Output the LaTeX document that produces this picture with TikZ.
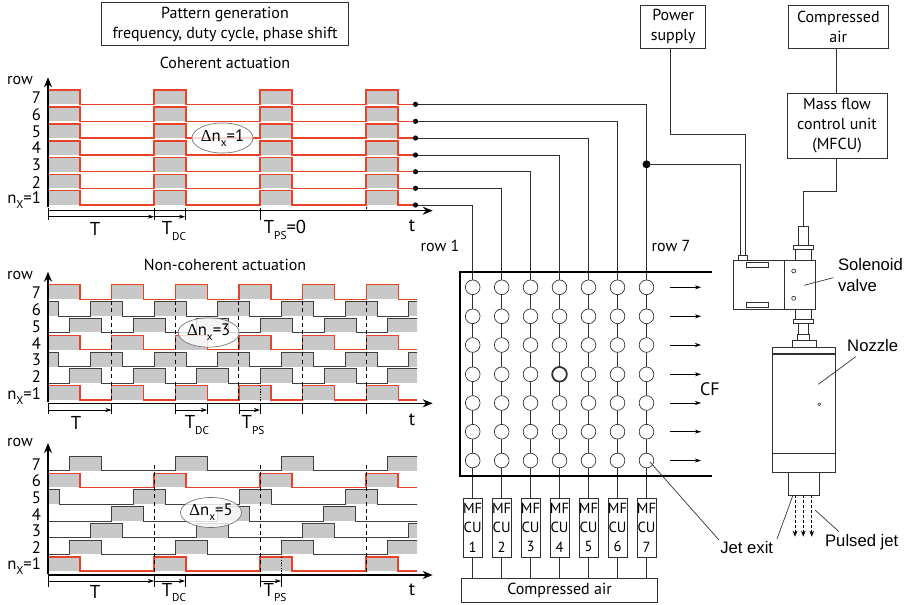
\documentclass[tikz,border=0pt]{standalone}
\usepackage{fontspec}
\setmainfont{PT Sans}
\newfontfamily\arialf{Liberation Sans}
\newfontfamily\serf{Liberation Serif}
\usetikzlibrary{arrows.meta,shapes.geometric}
\pgfdeclarelayer{wires}
\pgfsetlayers{wires,main}
\definecolor{sigred}{HTML}{E8432A}
\definecolor{pulsegrey}{HTML}{C8C8C8}
\definecolor{wirec}{HTML}{303030}
\newcommand\sbs[1]{\raisebox{-0.6ex}{\fontsize{8.5}{9}\selectfont #1}}
\newcommand\dn{{\serf Δ}}
% name x1 y1 x2 y2 text
\newcommand\bx[7][]{\node[boxn,#1,minimum width={(#5-#3)*0.75pt},minimum height={(#6-#4)*0.75pt}] (#2) at ({(#3+#5)/2},{(#4+#6)/2}) {#7};}
% style yhigh ylow phase period end
\newcommand\sig[6]{\begin{scope}
  \clip (47,#2-2) rectangle (#6,#3+2);
  \foreach \k in {0,...,8}{\fill[pulsegrey] ({#4+\k*#5},#3) rectangle ({#4+\k*#5+32},#2);}
  \draw[#1] ({#4-60},#3) \foreach \k in {0,...,8}{ -- ({#4+\k*#5},#3) -- ({#4+\k*#5},#2) -- ({#4+\k*#5+32},#2) -- ({#4+\k*#5+32},#3)};
\end{scope}}
\tikzset{
  every node/.style={font=\fontsize{12}{15}\selectfont,inner sep=0pt,outer sep=0pt,align=center},
  boxn/.style={draw=wirec,line width=0.6pt,fill=white},
  redsig/.style={draw=sigred,line width=0.95pt,line join=miter},
  blksig/.style={draw=black!75,line width=0.6pt,line join=miter},
  wire/.style={draw=wirec,line width=0.6pt},
  mainaxis/.style={line width=1.1pt,draw=black,-{Stealth[length=7.5pt,width=6pt]}},
  tickl/.style={line width=0.45pt,draw=black},
  dimarr/.style={line width=0.45pt,draw=black,-{Stealth[length=4.5pt,width=3pt]}},
  dashv/.style={line width=0.5pt,draw=black,dash pattern=on 3pt off 2.5pt},
  dotv/.style={line width=0.5pt,draw=black,dash pattern=on 1pt off 1pt},
  bigl/.style={font=\fontsize{14}{16}\selectfont},
  rowl/.style={font=\fontsize{12.5}{14}\selectfont,anchor=east},
  ell/.style={ellipse,draw=black!55,line width=0.5pt,fill=white,fill opacity=0.8,text opacity=1,font=\fontsize{12.5}{14}\selectfont},
  ldot/.style={circle,fill=black,minimum size=3.9pt},
  jetc/.style={circle,draw=wirec,line width=0.5pt,fill=white,minimum size=11pt},
  arial/.style={font=\arialf\fontsize{12.5}{15}\selectfont},
  mfcu/.style={font=\fontsize{11}{14.3}\selectfont},
  leader/.style={draw=wirec,line width=0.5pt},
}
\begin{document}
\begin{tikzpicture}[x=0.75pt,y=-0.75pt]
\useasboundingbox (0,0) rectangle (905,604);

% Header
\bx{pat}{101.7}{2.7}{348.3}{45.7}{Pattern generation\\frequency, duty cycle, phase shift}
\node (coh) at (225,63) {Coherent actuation};
\node (nonc) at (225,265) {Non-coherent actuation};

% ---- Panel 1
\foreach \h/\l in {90/104.3,107/121.3,124/138,141/155,157.7/171.7,174.3/188.3,190.7/205}{\sig{redsig}{\h}{\l}{48}{106}{415.5}}
\draw[mainaxis] (48,207) -- (48,77.3);
\draw[mainaxis] (48,210.7) -- (432.7,210.7);
\foreach \x in {48,154,185,260}{\draw[tickl] (\x,208) -- (\x,220);}
\draw[tickl] (366,207) -- (366,209);
\draw[dimarr] (48,216.7) -- (154,216.7);
\draw[dimarr] (154,216.7) -- (185,216.7);
\node (arow) at (20,80) {row};
\foreach \n/\y in {7/98,6/115,5/131.7,4/148,3/165,2/182.7}{\node[rowl] (a\n) at (41,\y) {\n};}
\node[rowl] (a1) at (41,200) {n\sbs{X}=1};
\node[bigl] (aT) at (95,229) {T};
\node[bigl] (aD) at (174,231) {T\sbs{DC}};
\node[bigl] (aP) at (285,230) {T\sbs{PS}=0};
\node[bigl] (at) at (412,226) {t};
\node[ell,minimum width=39pt,minimum height=22.5pt] (ea) at (222.5,138) {\dn n\sbs{x}=1};

% ---- Panel 2
\sig{redsig}{284.7}{299.3}{48}{63.67}{417}
\sig{blksig}{301.7}{316}{26.8}{63.67}{417}
\sig{blksig}{318.3}{332.3}{69.3}{63.67}{417}
\sig{redsig}{335.7}{349.7}{48}{63.67}{417}
\sig{blksig}{352.3}{366.7}{26.8}{63.67}{417}
\sig{blksig}{368.7}{383.3}{69.3}{63.67}{417}
\sig{redsig}{385.7}{400}{48}{63.67}{417}
\foreach \x in {111.5,175,238.8,302.4,366}{\draw[dashv] (\x,301) -- (\x,401);}
\draw[dotv] (260,386) -- (260,402);
\draw[mainaxis] (48,402) -- (48,271.7);
\draw[mainaxis] (48,403.3) -- (432.7,403.3);
\foreach \x in {48,111.5,175,207,238.8,260,302.4,366}{\draw[tickl] (\x,403) -- (\x,414);}
\draw[dimarr] (48,410) -- (111.5,410);
\draw[dimarr] (175,410) -- (207,410);
\draw[dimarr] (238.8,410) -- (260,410);
\node (brow) at (20,275) {row};
\foreach \n/\y in {7/293,6/310,5/327,4/344,3/360,2/377}{\node[rowl] (b\n) at (41,\y) {\n};}
\node[rowl] (b1) at (41,396) {n\sbs{X}=1};
\node[bigl] (bT) at (76,423) {T};
\node[bigl] (bD) at (197,425) {T\sbs{DC}};
\node[bigl] (bP) at (253,425) {T\sbs{PS}};
\node[bigl] (bt) at (412,420) {t};
\node[ell,minimum width=38.5pt,minimum height=22pt] (eb) at (208.7,332.5) {\dn n\sbs{x}=3};

% ---- Panel 3
\sig{blksig}{456.3}{470.7}{69.3}{106}{417}
\sig{redsig}{473.3}{487.3}{48}{106}{417}
\sig{blksig}{489.3}{504}{27}{106}{417}
\sig{blksig}{506.7}{521}{5.5}{106}{417}
\sig{blksig}{523.7}{537.7}{-15.5}{106}{417}
\sig{blksig}{540}{554.3}{69.3}{106}{417}
\sig{redsig}{557}{571}{48}{106}{417}
\foreach \x in {154,260,366}{\draw[dashv] (\x,465) -- (\x,574);}
\draw[dotv] (281,557) -- (281,575);
\draw[mainaxis] (48,574) -- (48,443);
\draw[mainaxis] (48,575) -- (432.7,575);
\foreach \x in {48,154,185,260,281}{\draw[tickl] (\x,575) -- (\x,586.7);}
\draw[dimarr] (48,581) -- (154,581);
\draw[dimarr] (154,581) -- (185,581);
\draw[dimarr] (260,581) -- (281,581);
\node (crow) at (20,442) {row};
\foreach \n/\y in {7/465,6/481,5/498,4/515,3/531,2/548}{\node[rowl] (c\n) at (41,\y) {\n};}
\node[rowl] (c1) at (41,566) {n\sbs{X}=1};
\node[bigl] (cT) at (95,592) {T};
\node[bigl] (cD) at (174,592.5) {T\sbs{DC}};
\node[bigl] (cP) at (275,592.5) {T\sbs{PS}};
\node[bigl] (ct) at (412,590) {t};
\node[ell,minimum width=38.5pt,minimum height=22.5pt] (ec) at (211,512.5) {\dn n\sbs{x}=5};

% ---- Jet grid, MFCU boxes and wiring
\bx{air}{461.7}{578.3}{657.3}{602}{Compressed air}
\foreach \i/\x/\ly in {1/472.7/205,2/501.7/188.3,3/530.5/171.7,4/559.5/155,5/588.5/138,6/617.5/121.3,7/646.5/104.3}{
  \node[ldot] (d\i) at (415.5,\ly) {};
  \bx[mfcu]{m\i}{\x-11}{498.7}{\x+11}{557}{MF\\CU\\\i}
  \foreach \j/\y in {1/287.3,2/316.3,3/345,4/374.3,5/403,6/431.7,7/460.5}{
    \node[jetc] (g\i\j) at (\x,\y) {};
  }
  \begin{pgfonlayer}{wires}
    \draw[wire] (d\i.center) -| (m\i.north);
    \draw[wire] (m\i.south) -- (m\i.south |- air.north);
  \end{pgfonlayer}
}
\node[jetc,line width=1.3pt] (gbold) at (559.5,374.3) {};
\draw[line width=1.1pt,draw=black] (712,272) -- (460,272) -- (460,476) -- (712,476);
\foreach \n/\y in {1/287.3,2/316.3,3/345,4/374.3,5/403,6/431.7,7/460.5}{
  \coordinate (fa\n) at (670,\y); \coordinate (fb\n) at (701,\y);
  \draw[dimarr] (fa\n) -- (fb\n);
}
\node[font=\fontsize{13.5}{15}\selectfont] (cf) at (710,389) {CF};
\node (r1) at (440,246) {row 1};
\node (r7) at (671,246) {row 7};

% ---- Top boxes
\bx{pw}{640.7}{5.3}{705.7}{48.3}{Power\\supply}
\bx{ca}{788.3}{5.3}{888.3}{48.3}{Compressed\\air}
\bx{mf}{787}{93.3}{887}{158.3}{Mass flow\\control unit\\(MFCU)}
\node[circle,fill=black,minimum size=6pt] (jd) at (646.5,164.3) {};

% ---- Solenoid valve and nozzle
\bx{fit}{798.3}{226}{808.3}{245}{}
\bx{fla}{793.3}{245}{813.3}{249.5}{}
\bx{nk}{795}{249.5}{811.3}{260}{}
\bx{sol}{733.3}{260}{784.3}{309}{}
\bx{solr}{784.3}{260}{815}{309}{}
\bx{plug}{738.3}{255.7}{747.7}{260}{}
\bx{s1}{746.7}{262.3}{768.3}{267}{}
\bx{s2}{746.7}{302.3}{768.3}{307}{}
\node[circle,draw=wirec,line width=0.5pt,minimum size=3pt] (o1) at (793.7,271) {};
\node[circle,draw=wirec,line width=0.5pt,minimum size=3pt] (o2) at (793.7,298.3) {};
\bx{nk2}{795.7}{309}{811}{319.3}{}
\bx{fl2}{793.3}{319.3}{813.3}{323.3}{}
\bx{nk3}{798.3}{323.3}{808.3}{334}{}
\bx{nk4}{797.7}{334}{809.3}{340}{}
\bx{nk5}{792.3}{340}{816}{347.3}{}
\bx{noz}{772.7}{347.3}{835}{472.3}{}
\coordinate (nl1) at (772.7,354); \coordinate (nr1) at (835,354);
\coordinate (nl2) at (772.7,453.7); \coordinate (nr2) at (835,453.7);
\draw[wire,line width=0.9pt] (nl1) -- (nr1);
\draw[wire,line width=0.9pt] (nl2) -- (nr2);
\node[circle,draw=wirec,line width=0.4pt,minimum size=2.2pt] (o3) at (819.3,404.3) {};
\bx{tip}{788}{472.3}{819.7}{495}{}

% wires of the right side
\coordinate (pwout) at (670.3,48.3);
\coordinate (pwbend) at (745.5,134.3);
\coordinate (plugl) at (740,255.7);
\coordinate (plugr) at (745.5,255.7);
\draw[wire] (pwout) |- (pwbend) -- (plugr);
\draw[wire] (jd.center) -| (plugl);
\coordinate (caout) at (836.7,48.3);
\coordinate (mfin) at (836.7,93.3);
\draw[wire] (caout) -- (mfin);
\coordinate (mfout) at (836.7,158.3);
\coordinate (mfb) at (803.3,191);
\draw[wire] (mfout) |- (mfb) -- (fit.north);
\foreach \n/\x in {1/795,2/803.3,3/811.7}{
  \coordinate (ja\n) at (\x,495); \coordinate (jb\n) at (\x,536.7);
  \draw[line width=0.5pt,draw=black,dash pattern=on 2pt off 1.8pt,-{Stealth[length=4.5pt,width=3.5pt]}] (ja\n) -- (jb\n);
}

% labels and leaders
\node[arial,anchor=west] (sv1) at (838,265) {Solenoid};
\node[arial,anchor=west] (sv2) at (838,285.5) {valve};
\coordinate (svl) at (804.3,285.3);
\coordinate (svt) at (833.3,277.7);
\draw[leader] (svl) -- (svt);
\node[arial] (nl) at (872.7,346) {Nozzle};
\coordinate (nzl) at (818.3,384.3);
\coordinate (nzt) at (855.7,356.7);
\draw[leader] (nzl) -- (nzt);
\node[arial] (jl) at (746.7,548) {Jet exit};
\coordinate (jea) at (650,462); \coordinate (jeb) at (719,540); \coordinate (jec) at (777,539);
\draw[leader] (jea) -- (jeb);
\coordinate (jtip) at (792.7,496);
\draw[leader] (jec) -- (jtip);
\node[arial] (pj) at (861.7,541.7) {Pulsed jet};
\coordinate (pjt) at (815,510); \coordinate (pja) at (839,531.7);
\draw[leader] (pja) -- (pjt);
\end{tikzpicture}
\end{document}
